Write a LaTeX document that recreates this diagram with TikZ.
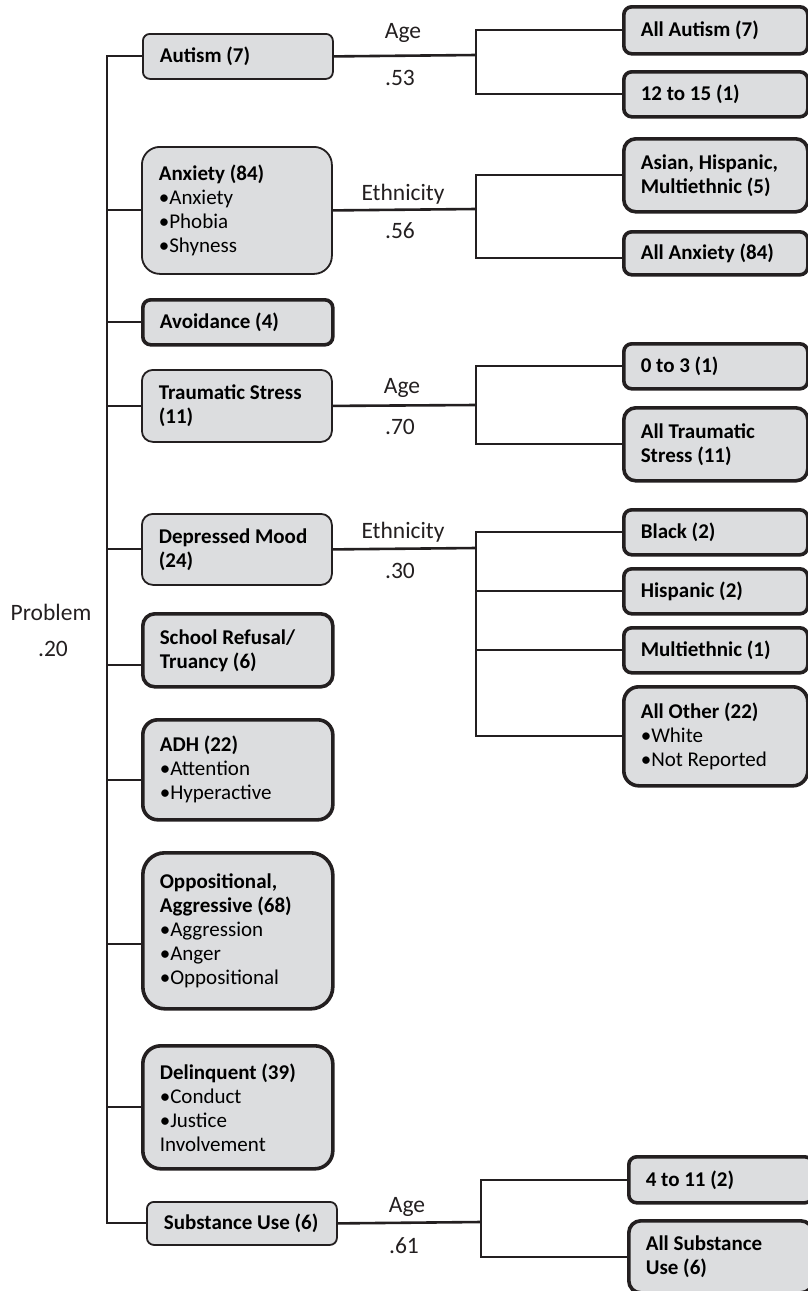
\documentclass[tikz,border=0pt]{standalone}
\usepackage{fontspec}
\setmainfont{Carlito}
\usetikzlibrary{positioning}
\definecolor{boxgray}{RGB}{220,221,223}
\definecolor{ink}{RGB}{35,31,32}
\newcommand{\bul}{\mdseries\textbullet}

\begin{document}
\begin{tikzpicture}[x=1pt,y=-1pt,font=\fontsize{23.5}{28}\selectfont,
  box/.style={draw=ink,fill=boxgray,line width=1.8pt,rounded corners=#1,anchor=north west,
    align=flush left,inner xsep=17pt,inner ysep=0pt,font=\fontsize{21}{24}\selectfont\bfseries},
  box/.default=7pt,
  heavy/.style={box=#1,line width=3.6pt},
  heavy/.default=8pt,
  lft/.style={minimum width=190pt,text width=156pt},
  rgt/.style={minimum width=184pt,text width=150pt},
  stem/.style={draw=ink,line width=2pt},
  link/.style={draw=ink,line width=2.6pt},
  branch/.style={draw=ink,line width=1.8pt},
  lbl/.style={anchor=base,inner sep=0pt,text=ink}]

\useasboundingbox (0,0) rectangle (807,1291);

% problem domains
\node[box,lft,minimum height=45pt]            (aut)  at (142,33)   {Autism (7)};
\node[box=18pt,lft,minimum height=127pt]      (anx)  at (141,146)  {Anxiety (84)\\\bul Anxiety\\\bul Phobia\\\bul Shyness};
\node[heavy,lft,minimum height=45pt]          (avo)  at (141,298)  {Avoidance (4)};
\node[box=11pt,lft,minimum height=72pt]       (trau) at (141,369)  {Traumatic Stress\\(11)};
\node[box=11pt,lft,minimum height=71pt]       (dep)  at (141,513)  {Depressed Mood\\(24)};
\node[heavy=12pt,lft,minimum height=73pt]     (sch)  at (141,612)  {School Refusal/\\Truancy (6)};
\node[heavy=15pt,lft,minimum height=100pt]    (adh)  at (141,718)  {ADH (22)\\\bul Attention\\\bul Hyperactive};
\node[heavy=22pt,lft,minimum height=156pt]    (opp)  at (141,851)  {Oppositional,\\Aggressive (68)\\\bul Aggression\\\bul Anger\\\bul Oppositional};
\node[heavy=18pt,lft,minimum height=123pt]    (del)  at (141,1044) {Delinquent (39)\\\bul Conduct\\\bul Justice\\Involvement};
\node[box,lft,minimum height=43pt]            (sub)  at (146,1201) {Substance Use (6)};

% subgroups
\node[heavy,rgt,minimum height=47pt]          (autall)  at (622,5)    {All Autism (7)};
\node[heavy,rgt,minimum height=45pt]          (aut1215) at (622,70)   {12 to 15 (1)};
\node[heavy=12pt,rgt,minimum height=73pt]     (anxahm)  at (622,137)  {Asian, Hispanic,\\Multiethnic (5)};
\node[heavy,rgt,minimum height=43pt]          (anxall)  at (622,230)  {All Anxiety (84)};
\node[heavy,rgt,minimum height=45pt]          (trau03)  at (622,342)  {0 to 3 (1)};
\node[heavy=12pt,rgt,minimum height=73pt]     (trauall) at (622,406)  {All Traumatic\\Stress (11)};
\node[heavy,rgt,minimum height=45pt]          (depb)    at (622,508)  {Black (2)};
\node[heavy,rgt,minimum height=45pt]          (deph)    at (622,567)  {Hispanic (2)};
\node[heavy,rgt,minimum height=45pt]          (depm)    at (622,626)  {Multiethnic (1)};
\node[heavy=15pt,rgt,minimum height=99pt]     (depo)    at (622,685)  {All Other (22)\\\bul White\\\bul Not Reported};
\node[heavy,rgt,minimum height=46pt]          (sub411)  at (627,1155) {4 to 11 (2)};
\node[heavy=12pt,rgt,minimum height=72pt]     (suball)  at (627,1219) {All Substance\\Use (6)};

% split points
\coordinate (tk)     at (107,0);
\coordinate (autsp)  at (476,55);
\coordinate (anxsp)  at (476,209);
\coordinate (trausp) at (476,405);
\coordinate (depsp)  at (476,548);
\coordinate (subsp)  at (481,1222);

% trunk
\draw[stem] (aut.west) -| (tk |- sub.west) -- (sub.west);
\foreach \n/\s in {anx/0,avo/0,trau/0,dep/0,sch/-15,adh/-10,opp/-13,del/0}{
  \coordinate (\n in) at ([yshift=\s pt]\n.west);
  \draw[stem] (\n in) -- (\n in -| tk);
}

% links and splits
\draw[link] (aut.east) -- (autsp);
\draw[link] (anx.east) -- (anxsp);
\draw[link] (trau.east) -- (trausp);
\draw[link] (dep.east) -- (depsp);
\draw[link] (sub.east) -- (subsp);

\coordinate (anxall in) at ([yshift=-5pt]anxall.west);
\draw[branch] (autall.west) -| (autsp) |- (aut1215.west);
\draw[branch] (anxahm.west) -| (anxsp) |- (anxall in);
\draw[branch] (trau03.west) -| (trausp) |- (trauall.west);
\draw[branch] (depb.west) -| (depsp) |- (depo.west);
\draw[branch] (deph.west) -- (deph.west -| depsp);
\draw[branch] (depm.west) -- (depm.west -| depsp);
\draw[branch] (sub411.west) -| (subsp) |- (suball.west);

% labels
\node[lbl] (prob)   at (51,620)   {Problem};
\node[lbl] (probv)  at (53,656)   {.20};
\node[lbl] (autl)   at (403,38)   {Age};
\node[lbl] (autv)   at (400,85)   {.53};
\node[lbl] (anxl)   at (403,200)  {Ethnicity};
\node[lbl] (anxv)   at (400,238)  {.56};
\node[lbl] (traul)  at (402,393)  {Age};
\node[lbl] (trauv)  at (400,434)  {.70};
\node[lbl] (depl)   at (403,538)  {Ethnicity};
\node[lbl] (depv)   at (400,578)  {.30};
\node[lbl] (subl)   at (407,1212) {Age};
\node[lbl] (subv)   at (404,1253) {.61};

\end{tikzpicture}
\end{document}
